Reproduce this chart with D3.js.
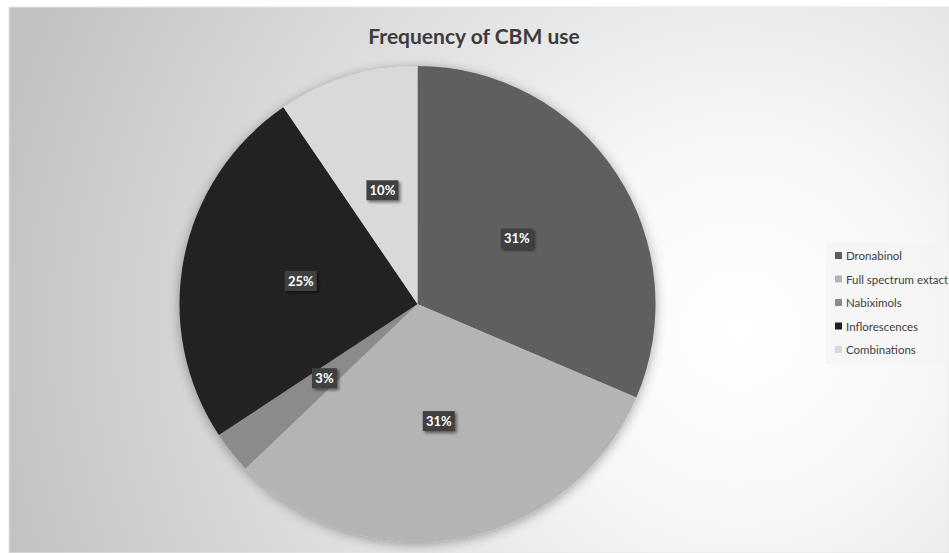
<!DOCTYPE html>
<html>
<head>
<meta charset="utf-8">
<script src="https://cdn.jsdelivr.net/npm/d3@7"></script>
<style>
  body { margin: 0; background: #ffffff; }
  svg { display: block; font-family: Lato, "Open Sans", sans-serif; }
</style>
</head>
<body>
<div id="chart"></div>
<script>
var categories = ["Dronabinol", "Full spectrum extact", "Nabiximols", "Inflorescences", "Combinations"];
var counts = [33, 33, 3, 26, 10];
var sliceColors = ["#5e5e5e", "#b4b4b4", "#8b8b8b", "#212121", "#d9d9d9"];
var title = "Frequency of CBM use";

var width = 949, height = 553;
var cx = 417.5, cy = 304, radius = 238;

var svg = d3.select("#chart").append("svg").attr("width", width).attr("height", height);
var defs = svg.append("defs");

// background gradient, light on the right side
var grad = defs.append("radialGradient").attr("id", "bg")
  .attr("gradientUnits", "userSpaceOnUse")
  .attr("cx", 740).attr("cy", 330).attr("r", 760);
grad.append("stop").attr("offset", 0).attr("stop-color", "#ffffff");
grad.append("stop").attr("offset", 0.25).attr("stop-color", "#f7f7f7");
grad.append("stop").attr("offset", 1).attr("stop-color", "#c2c2c2");

var pieShadow = defs.append("filter").attr("id", "pieShadow")
  .attr("x", "-20%").attr("y", "-20%").attr("width", "140%").attr("height", "140%");
pieShadow.append("feGaussianBlur").attr("in", "SourceAlpha").attr("stdDeviation", 6).attr("result", "b");
pieShadow.append("feOffset").attr("in", "b").attr("dx", 0).attr("dy", 2).attr("result", "o");
pieShadow.append("feComponentTransfer").attr("in", "o").attr("result", "s")
  .append("feFuncA").attr("type", "linear").attr("slope", 0.35);
var m1 = pieShadow.append("feMerge");
m1.append("feMergeNode").attr("in", "s");
m1.append("feMergeNode").attr("in", "SourceGraphic");

var boxShadow = defs.append("filter").attr("id", "boxShadow")
  .attr("x", "-30%").attr("y", "-30%").attr("width", "170%").attr("height", "170%");
boxShadow.append("feGaussianBlur").attr("in", "SourceAlpha").attr("stdDeviation", 1.5).attr("result", "b");
boxShadow.append("feOffset").attr("in", "b").attr("dx", 2).attr("dy", 2).attr("result", "o");
boxShadow.append("feComponentTransfer").attr("in", "o").attr("result", "s")
  .append("feFuncA").attr("type", "linear").attr("slope", 0.5);
var m2 = boxShadow.append("feMerge");
m2.append("feMergeNode").attr("in", "s");
m2.append("feMergeNode").attr("in", "SourceGraphic");

svg.append("rect").attr("x", 9).attr("y", 7).attr("width", width - 9).attr("height", height - 7)
  .attr("fill", "url(#bg)").attr("stroke", "#e6e6e6").attr("stroke-width", 1);

svg.append("text").attr("x", 474).attr("y", 44).attr("text-anchor", "middle")
  .attr("font-size", 21).attr("font-weight", "bold").attr("fill", "#3c3c3c").text(title);

var total = d3.sum(counts);
var data = categories.map(function(c, i){ return {name: c, value: counts[i], color: sliceColors[i]}; });

var pie = d3.pie().sort(null).value(function(d){ return d.value; });
var arc = d3.arc().innerRadius(0).outerRadius(radius);
var arcs = pie(data);

var g = svg.append("g").attr("transform", "translate(" + cx + "," + cy + ")");
g.append("g").attr("filter", "url(#pieShadow)")
  .selectAll("path").data(arcs).enter().append("path")
  .attr("d", arc)
  .attr("fill", function(d){ return d.data.color; });

var fmt = d3.format(".0%");
var labels = g.selectAll(".lbl").data(arcs).enter().append("g")
  .attr("transform", function(d){ var c = arc.centroid(d); return "translate(" + c[0] + "," + c[1] + ")"; });
labels.each(function(d){
  var sel = d3.select(this);
  var txt = fmt(d.data.value / total);
  var w = txt.length > 2 ? 32 : 25;
  sel.append("rect").attr("x", -w / 2).attr("y", -10).attr("width", w).attr("height", 20)
    .attr("fill", "#404040").attr("filter", "url(#boxShadow)");
  sel.append("text").attr("text-anchor", "middle").attr("y", 5)
    .attr("font-size", 13).attr("font-weight", "bold").attr("fill", "#ffffff").text(txt);
});

// legend
var legend = svg.append("g").attr("transform", "translate(826,243)");
legend.append("rect").attr("width", 123).attr("height", 121).attr("fill", "#f4f4f4").attr("opacity", 0.6);
var rows = legend.selectAll(".row").data(data).enter().append("g")
  .attr("transform", function(d, i){ return "translate(9," + (13 + i * 23.5) + ")"; });
rows.append("rect").attr("x", 0).attr("y", -4).attr("width", 7).attr("height", 7)
  .attr("fill", function(d){ return d.color; });
rows.append("text").attr("x", 11).attr("y", 4).attr("font-size", 11.5).attr("fill", "#404040")
  .text(function(d){ return d.name; });
</script>
</body>
</html>
